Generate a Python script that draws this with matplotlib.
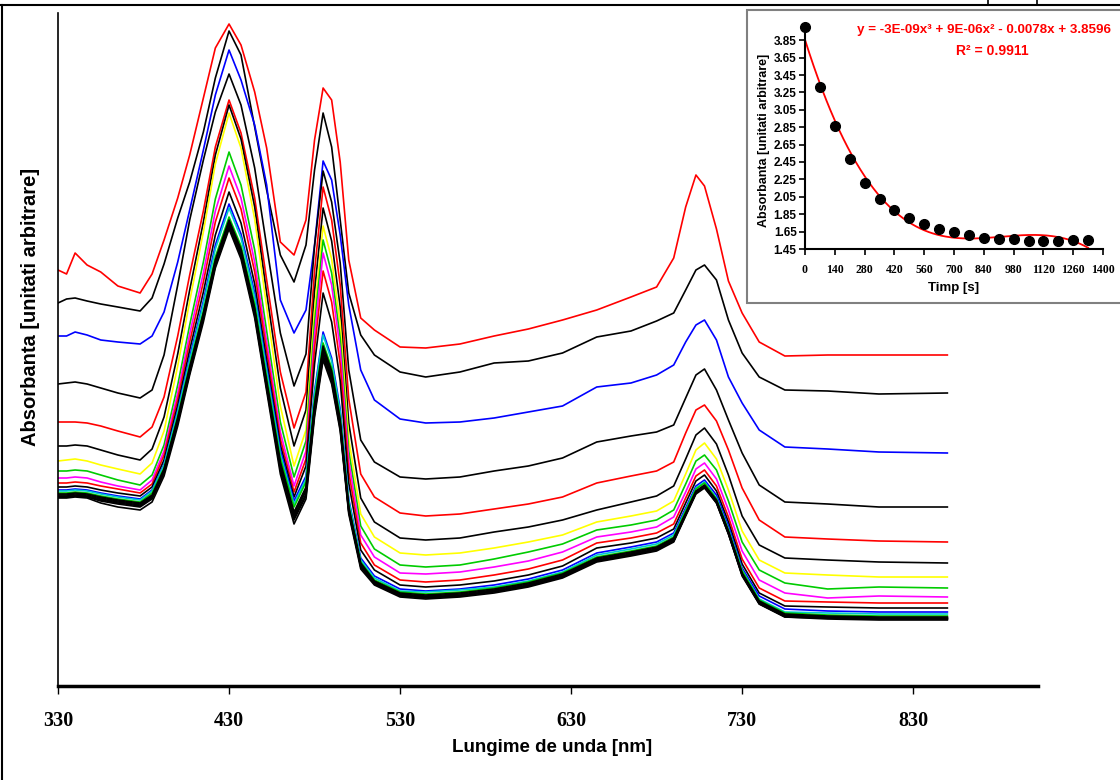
import matplotlib.pyplot as plt
import numpy as np
from matplotlib.patches import Rectangle
from matplotlib.lines import Line2D

plt.rcParams['font.family'] = ['Liberation Sans', 'DejaVu Sans']

# lungimi de unda (nm) la care au fost citite spectrele
wavelength = [330, 335, 340, 347, 355, 365, 378, 385, 392, 400, 407, 415, 422, 430, 437, 445,
              452, 460, 468, 475, 480, 485, 490, 495, 500, 507, 515, 530, 545, 565, 585, 605,
              625, 645, 665, 680, 690, 697, 703, 708, 715, 722, 730, 740, 755, 780, 810, 850]

# absorbanta (x0.01 u.a.) pentru fiecare moment de timp
abs_0 = [430, 426, 447, 435, 428, 414, 407, 426, 460, 502, 545, 602, 652, 676, 655, 608, 552, 458, 445, 480, 560, 612, 600, 538, 440, 382, 370, 353, 352, 356, 364, 371, 380, 390, 403, 413, 442, 493, 525, 514, 471, 419, 387, 358, 344, 345, 345, 345]
abs_70 = [397, 401, 402, 399, 396, 393, 389, 402, 436, 482, 518, 568, 622, 669, 645, 573, 510, 445, 418, 455, 530, 587, 553, 480, 407, 365, 345, 328, 323, 328, 337, 339, 347, 363, 369, 379, 387, 410, 430, 435, 420, 380, 347, 323, 310, 309, 306, 307]
abs_140 = [364, 364, 368, 365, 360, 358, 356, 364, 388, 438, 490, 550, 605, 650, 620, 575, 515, 400, 367, 390, 455, 539, 520, 465, 395, 330, 300, 281, 277, 278, 282, 288, 294, 313, 317, 325, 335, 358, 375, 380, 360, 323, 297, 270, 253, 251, 248, 247]
abs_210 = [316, 317, 318, 316, 312, 307, 302, 310, 345, 415, 480, 540, 588, 626, 595, 532, 454, 367, 314, 346, 454, 529, 498, 437, 330, 260, 238, 223, 221, 223, 229, 234, 242, 258, 264, 268, 275, 302, 325, 331, 310, 280, 247, 215, 198, 196, 193, 193]
abs_280 = [278, 278, 278, 277, 274, 269, 263, 273, 303, 364, 425, 489, 553, 600, 567, 502, 420, 328, 272, 308, 429, 513, 480, 415, 301, 226, 203, 187, 184, 186, 191, 196, 203, 217, 224, 229, 238, 267, 290, 295, 279, 250, 212, 180, 163, 161, 159, 158]
abs_350 = [254, 254, 255, 254, 250, 245, 240, 251, 283, 346, 410, 478, 545, 595, 561, 493, 407, 312, 254, 290, 409, 492, 459, 393, 277, 202, 178, 162, 160, 162, 168, 173, 180, 190, 198, 204, 214, 241, 265, 272, 256, 225, 184, 155, 142, 140, 138, 137]
abs_420 = [239, 240, 241, 239, 235, 231, 226, 237, 269, 334, 399, 468, 536, 587, 552, 481, 393, 294, 234, 270, 390, 474, 441, 376, 261, 186, 163, 147, 145, 147, 152, 158, 165, 178, 184, 189, 199, 226, 250, 257, 241, 210, 169, 140, 127, 125, 123, 123]
abs_490 = [229, 229, 230, 229, 225, 220, 215, 225, 255, 315, 375, 438, 501, 548, 515, 450, 369, 278, 223, 259, 377, 460, 427, 362, 249, 174, 151, 135, 133, 135, 141, 148, 156, 170, 175, 180, 190, 216, 239, 245, 230, 199, 158, 130, 117, 111, 113, 112]
abs_560 = [222, 222, 223, 222, 218, 214, 210, 220, 249, 307, 366, 427, 489, 534, 502, 438, 358, 268, 214, 249, 365, 447, 415, 351, 239, 165, 143, 127, 126, 128, 133, 139, 148, 163, 168, 173, 183, 208, 231, 237, 221, 190, 149, 120, 107, 102, 104, 103]
abs_630 = [217, 217, 218, 217, 214, 211, 207, 216, 245, 301, 358, 418, 478, 522, 491, 428, 349, 261, 208, 241, 352, 429, 398, 336, 228, 157, 135, 120, 118, 120, 125, 131, 140, 157, 162, 167, 176, 202, 224, 230, 214, 183, 141, 112, 99, 98, 97, 97]
abs_700 = [213, 213, 214, 213, 210, 207, 204, 213, 240, 295, 350, 408, 465, 508, 477, 416, 340, 255, 203, 234, 336, 407, 378, 319, 217, 150, 130, 115, 113, 115, 119, 125, 134, 152, 157, 162, 171, 197, 219, 225, 209, 178, 136, 107, 94, 93, 92, 92]
abs_770 = [210, 210, 211, 210, 207, 204, 201, 210, 236, 290, 343, 399, 455, 496, 466, 407, 333, 250, 199, 224, 309, 368, 342, 291, 201, 142, 124, 111, 109, 111, 115, 121, 130, 147, 153, 158, 167, 192, 214, 220, 205, 174, 132, 104, 91, 89, 88, 88]
abs_840 = [209, 209, 210, 209, 206, 203, 200, 209, 235, 288, 340, 396, 451, 492, 462, 403, 329, 246, 196, 221, 306, 365, 339, 288, 199, 140, 122, 109, 108, 110, 113, 119, 128, 145, 151, 156, 165, 190, 212, 218, 202, 171, 130, 101, 88, 87, 86, 86]
abs_910 = [207, 207, 208, 207, 204, 201, 198, 207, 232, 284, 335, 389, 443, 483, 454, 396, 323, 242, 193, 218, 300, 357, 332, 282, 195, 138, 120, 108, 106, 108, 112, 118, 127, 143, 149, 154, 163, 189, 211, 217, 201, 170, 129, 100, 87, 85, 84, 84]
abs_980 = [206, 206, 207, 206, 203, 200, 197, 205, 231, 282, 333, 387, 440, 480, 451, 392, 319, 238, 188, 213, 296, 354, 329, 280, 193, 137, 119, 107, 105, 107, 111, 117, 126, 142, 148, 153, 162, 187, 209, 215, 200, 169, 127, 99, 86, 84, 83, 83]
abs_1050 = [205, 205, 206, 205, 202, 199, 196, 204, 230, 281, 331, 385, 438, 478, 449, 390, 317, 236, 186, 211, 293, 351, 326, 277, 192, 135, 118, 106, 104, 106, 110, 116, 125, 141, 147, 152, 161, 186, 208, 214, 199, 168, 126, 98, 85, 83, 82, 82]
abs_1120 = [204, 204, 205, 204, 201, 198, 195, 203, 229, 279, 330, 383, 437, 476, 447, 388, 315, 234, 184, 209, 291, 348, 324, 275, 190, 134, 117, 105, 103, 105, 109, 115, 124, 140, 146, 151, 160, 186, 208, 214, 198, 167, 126, 97, 84, 83, 82, 82]
abs_1190 = [203, 203, 204, 203, 200, 197, 194, 202, 228, 278, 328, 382, 435, 474, 445, 386, 313, 232, 182, 206, 288, 345, 321, 273, 189, 134, 117, 105, 103, 104, 109, 114, 123, 139, 145, 150, 159, 185, 207, 213, 198, 167, 125, 97, 84, 82, 81, 81]
abs_1260 = [203, 203, 204, 203, 199, 196, 193, 201, 227, 277, 327, 381, 434, 473, 444, 385, 312, 230, 180, 204, 286, 343, 319, 271, 188, 133, 116, 104, 102, 104, 108, 114, 123, 139, 145, 150, 159, 185, 207, 213, 197, 166, 125, 96, 83, 82, 81, 81]
abs_1330 = [202, 202, 203, 202, 197, 193, 190, 198, 224, 274, 325, 378, 432, 471, 441, 382, 309, 226, 176, 201, 283, 340, 316, 269, 186, 131, 115, 103, 101, 103, 107, 113, 122, 138, 144, 149, 158, 184, 206, 212, 197, 166, 124, 96, 83, 81, 80, 80]

spectra = [abs_0, abs_70, abs_140, abs_210, abs_280, abs_350, abs_420, abs_490, abs_560, abs_630,
           abs_700, abs_770, abs_840, abs_910, abs_980, abs_1050, abs_1120, abs_1190, abs_1260, abs_1330]
colours = ['#ff0000', '#000000', '#0000ff', '#000000', '#ff0000', '#000000', '#ffff00', '#00cc00',
           '#ff00ff', '#ff0000', '#000000', '#0000ff', '#00cccc', '#00cc00', '#000000', '#000000',
           '#000000', '#000000', '#000000', '#000000']

# cinetica (grafic inserat)
time_s = [0, 70, 140, 210, 280, 350, 420, 490, 560, 630, 700, 770, 840, 910, 980, 1050, 1120, 1190, 1260, 1330]
absorb = [4.00, 3.31, 2.86, 2.48, 2.21, 2.02, 1.90, 1.81, 1.74, 1.68, 1.645, 1.61, 1.58, 1.56, 1.56,
          1.545, 1.545, 1.545, 1.55, 1.55]

W, H = 1120, 780
fig = plt.figure(figsize=(W / 100, H / 100), dpi=100)

# grafic principal
ax = fig.add_axes([58 / W, 1 - 686 / H, 980 / W, 673 / H])
for a, c in zip(spectra, colours):
    ax.plot(wavelength, np.array(a) / 100, color=c, lw=1.2)
ax.set_xlim(330, 903)
ax.set_ylim(0.14, 6.87)
ax.set_xticks([330, 430, 530, 630, 730, 830])
ax.set_yticks([])
ax.tick_params(axis='x', direction='out', length=6, width=1, pad=12)
for lab in ax.get_xticklabels():
    lab.set_fontfamily('Liberation Serif')
    lab.set_fontweight('bold')
    lab.set_fontsize(14.5)
for s in ['top', 'right']:
    ax.spines[s].set_visible(False)
ax.spines['left'].set_linewidth(1.2)
ax.spines['bottom'].set_linewidth(2.5)

fig.text(552 / W, 1 - 748 / H, 'Lungime de unda [nm]', ha='center', va='center',
         fontsize=13.5, fontweight='bold')
fig.text(31 / W, 1 - 307 / H, 'Absorbanta [unitati arbitrare]', ha='center', va='center',
         rotation=90, fontsize=14.5, fontweight='bold')

# chenar grafic inserat
fig.add_artist(Rectangle((747 / W, 1 - 303 / H), 400 / W, 293 / H, transform=fig.transFigure,
                         facecolor='white', edgecolor='#808080', lw=1.5, zorder=2))

ins = fig.add_axes([805 / W, 1 - 249 / H, 298 / W, 217.5 / H])
ins.set_zorder(3)
ins.patch.set_alpha(0)
ins.plot(time_s, absorb, 'o', color='black', ms=7, clip_on=False, zorder=3)
coef = np.polyfit(time_s, absorb, 3)
tt = np.linspace(0, 1330, 200)
ins.plot(tt, np.polyval(coef, tt), color='#ff0000', lw=1.3)
ins.set_xlim(0, 1400)
ins.set_ylim(1.45, 3.95)
ins.set_xticks(np.arange(0, 1401, 140))
ins.set_yticks(np.arange(1.45, 3.86, 0.2))
ins.set_yticklabels(['%.2f' % v for v in np.arange(1.45, 3.86, 0.2)])
ins.tick_params(direction='out', length=4, width=1.2, pad=2)
for lab in ins.get_yticklabels():
    lab.set_fontweight('bold')
    lab.set_fontsize(8.5)
for lab in ins.get_xticklabels():
    lab.set_fontfamily('Liberation Serif')
    lab.set_fontweight('bold')
    lab.set_fontsize(8.5)
ins.tick_params(axis='x', pad=7)
for s in ['top', 'right']:
    ins.spines[s].set_visible(False)
ins.spines['left'].set_linewidth(1.5)
ins.spines['bottom'].set_linewidth(1.5)
ins.set_xlabel('Timp [s]', fontsize=9.5, fontweight='bold', labelpad=4)
ins.set_ylabel('Absorbanta [unitati arbitrare]', fontsize=9, fontweight='bold', labelpad=3)

fig.text(857 / W, 1 - 30 / H, 'y = -3E-09x³ + 9E-06x² - 0.0078x + 3.8596', color='#ff0000',
         fontsize=9.6, fontweight='bold', ha='left', va='center', zorder=5)
fig.text(992 / W, 1 - 51 / H, 'R² = 0.9911', color='#ff0000', fontsize=10, fontweight='bold',
         ha='center', va='center', zorder=5)

# linii de chenar ale foii
fig.add_artist(Line2D([0, 1], [1 - 5 / H, 1 - 5 / H], transform=fig.transFigure, color='black', lw=1.5))
fig.add_artist(Line2D([2 / W, 2 / W], [0, 1 - 5 / H], transform=fig.transFigure, color='black', lw=1.5))
fig.add_artist(Line2D([988 / W, 988 / W], [1 - 5 / H, 1], transform=fig.transFigure, color='black', lw=1.2))
fig.add_artist(Line2D([1037 / W, 1037 / W], [1 - 5 / H, 1], transform=fig.transFigure, color='black', lw=1.2))

fig.savefig('out.png', dpi=100)
